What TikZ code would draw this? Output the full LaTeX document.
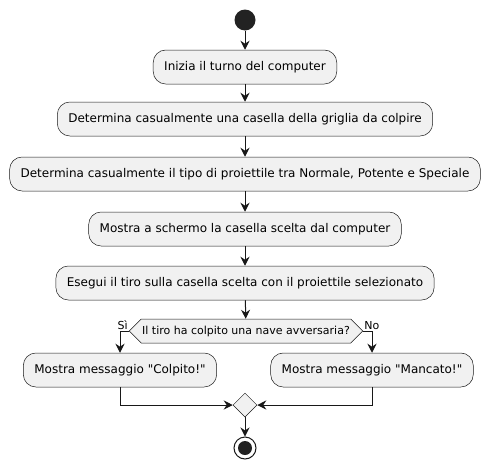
\documentclass[tikz,border=0pt]{standalone}
\usepackage{fontspec}
\setmainfont{DejaVu Sans}
\usepackage{xcolor}
\usepackage{tikz}
\usetikzlibrary{arrows.meta,shapes.geometric,shapes.symbols}
\definecolor{actfill}{HTML}{F1F1F1}
\definecolor{actline}{HTML}{181818}
\definecolor{dotfill}{HTML}{222222}

\begin{document}
\begin{tikzpicture}[x=1pt,y=-1pt,
    act/.style={draw=actline, line width=0.5pt, fill=actfill, rounded corners=12.5pt,
        minimum height=34pt, inner xsep=11pt, font=\fontsize{12}{14}\selectfont},
    choice/.style={draw=actline, line width=0.5pt, fill=actfill, signal, signal to=west and east,
        signal pointer angle=90, minimum height=24pt, inner xsep=1pt, inner ysep=0pt,
        font=\fontsize{11}{13}\selectfont},
    joint/.style={draw=actline, line width=0.5pt, fill=actfill, diamond, minimum size=24pt, inner sep=0pt},
    flow/.style={draw=actline, line width=1pt, -{Stealth[length=9pt,width=9pt,inset=3pt]}},
    lbl/.style={font=\fontsize{11}{13}\selectfont, inner sep=1pt}]
    \useasboundingbox (0,0) rectangle (490,469);

    % start and actions
    \node[circle, fill=dotfill, minimum size=21pt, inner sep=0pt] (start) at (245,20) {};
    \node[act] (turno) at (245,67) {Inizia il turno del computer};
    \node[act] (casella) at (245,119) {Determina casualmente una casella della griglia da colpire};
    \node[act] (tipo) at (245,174) {Determina casualmente il tipo di proiettile tra Normale, Potente e Speciale};
    \node[act] (mostra) at (245,229) {Mostra a schermo la casella scelta dal computer};
    \node[act] (tiro) at (245,283) {Esegui il tiro sulla casella scelta con il proiettile selezionato};

    % decision
    \node[choice] (esito) at (246,331) {Il tiro ha colpito una nave avversaria?};
    \node[act] (colpito) at (120,370) {Mostra messaggio \textquotedbl Colpito!\textquotedbl};
    \node[act] (mancato) at (372,370) {Mostra messaggio \textquotedbl Mancato!\textquotedbl};
    \node[joint] (merge) at (245,405) {};

    % stop
    \node[circle, draw=actline, line width=1pt, fill=white, minimum size=22pt, inner sep=0pt] (stop) at (245,448) {};
    \fill[dotfill] (stop) circle (7pt);

    \draw[flow] (start) -- (turno);
    \draw[flow] (turno) -- (casella);
    \draw[flow] (casella) -- (tipo);
    \draw[flow] (tipo) -- (mostra);
    \draw[flow] (mostra) -- (tiro);
    \draw[flow] (tiro) -- (esito);

    \draw[flow] (esito.west) -| (colpito.north);
    \draw[flow] (esito.east) -| (mancato.north);
    \node[lbl, anchor=south east] at (esito.west) {Sì};
    \node[lbl, anchor=south west] at (esito.east) {No};

    \draw[flow] (colpito.south) |- (merge.west);
    \draw[flow] (mancato.south) |- (merge.east);
    \draw[flow] (merge) -- (stop);
\end{tikzpicture}
\end{document}
